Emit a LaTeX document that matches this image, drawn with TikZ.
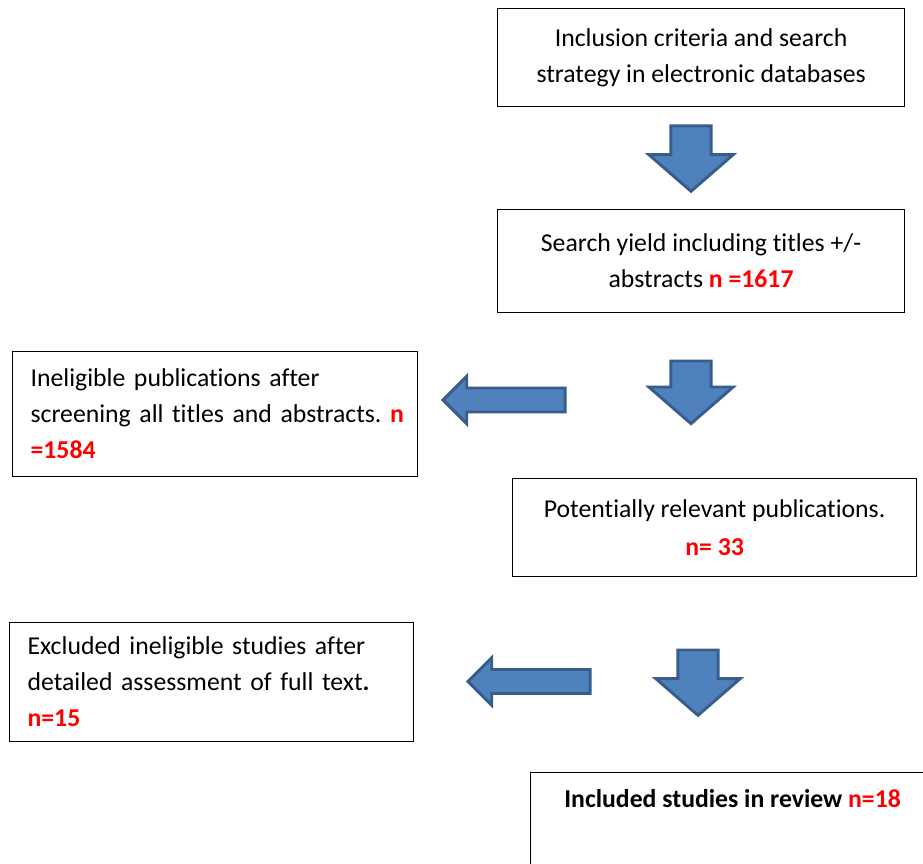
\documentclass[tikz,border=0pt]{standalone}
\usepackage{fontspec}
\setmainfont{Carlito}[Ligatures=NoCommon]
\usetikzlibrary{positioning,shapes.arrows}
\definecolor{arrowfill}{HTML}{4F81BD}
\definecolor{arrowline}{HTML}{385D8A}
\newcommand{\nred}[1]{\textcolor{red}{\textbf{#1}}}
\frenchspacing

\begin{document}
\begin{tikzpicture}[
    x=0.75pt, y=-0.75pt,
    base/.style = {rectangle, draw=black, line width=0.9pt, anchor=north west, inner sep=0pt,
                   font=\fontsize{19.3}{27}\selectfont},
    boxc/.style = {base, align=center},
    boxl/.style = {base, align=left},
    downarr/.style = {single arrow, draw=arrowline, fill=arrowfill, line width=2.2pt, rotate=-90,
                      anchor=tail, inner xsep=0pt, inner ysep=14pt, single arrow head extend=16.5pt,
                      single arrow tip angle=98, minimum height=49pt},
    leftarr/.style = {single arrow, draw=arrowline, fill=arrowfill, line width=2.2pt, rotate=180,
                      anchor=tail, inner xsep=0pt, inner ysep=7.9pt, single arrow head extend=8.8pt,
                      single arrow tip angle=90, minimum height=91.5pt},
]
    \clip (0,0) rectangle (923,863);

    % boxes
    \node[boxc, minimum width=305.25pt, minimum height=73.5pt] (search) at (497,8)
        {Inclusion criteria and search\\strategy in electronic databases};
    \node[boxc, minimum width=305.25pt, minimum height=77.25pt] (yield) at (497,209)
        {Search yield including titles +/-\\abstracts \nred{n =1617}};
    \node[boxl, minimum width=303.75pt, minimum height=93.75pt, text width=276.75pt] (inelig) at (12,351)
        {Ineligible publications after\\\mbox{screening all titles and abstracts. \nred{n}}\\\nred{=1584}};
    \node[boxc, minimum width=303pt, minimum height=73.5pt] (relevant) at (512,478)
        {Potentially relevant publications.\\[1.5pt]\nred{n= 33}};
    \node[boxl, minimum width=303pt, minimum height=89.25pt, text width=276pt] (excl) at (9,622)
        {Excluded ineligible studies after\\detailed assessment of full text\textbf{.}\\\nred{n=15}};
    \node[boxc, minimum width=303pt, inner ysep=12.75pt] (incl) at (530,772)
        {\textbf{Included studies in review \nred{n=18}}\\[60pt]\mbox{}};

    % block arrows
    \node[downarr] (d1) at (691,124.5) {};
    \node[downarr, minimum height=47pt] (d2) at (691,359.5) {};
    \node[downarr] (d3) at (698,648.5) {};
    \node[leftarr] (l1) at (566.5,400) {};
    \node[leftarr] (l2) at (591.5,681.5) {};

\end{tikzpicture}
\end{document}
